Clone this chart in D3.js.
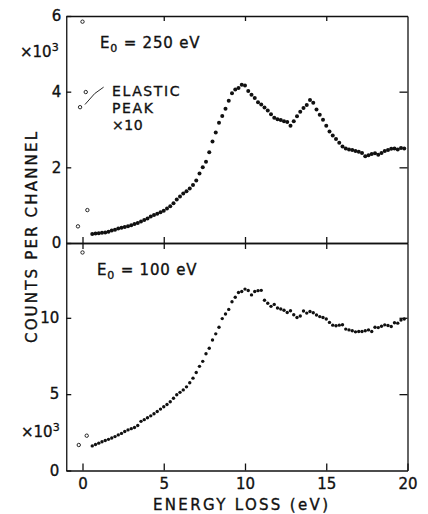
<!DOCTYPE html>
<html>
<head>
<meta charset="utf-8">
<script src="https://cdn.jsdelivr.net/npm/d3@7"></script>
<style>
  body { margin: 0; background: #fff; }
  svg { display: block; font-family: "DejaVu Sans", sans-serif; }
  text { stroke: #111; stroke-width: 0.35px; }
</style>
</head>
<body>
<svg id="chart" width="428" height="514"></svg>
<script>
// channel energies (eV)
const energy = [
  0.6, 0.8, 1.0, 1.2, 1.4, 1.6, 1.8, 2.0, 2.2, 2.4,
  2.6, 2.8, 3.0, 3.2, 3.4, 3.6, 3.8, 4.0, 4.2, 4.4,
  4.6, 4.8, 5.0, 5.2, 5.4, 5.6, 5.8, 6.0, 6.2, 6.4,
  6.6, 6.8, 7.0, 7.2, 7.4, 7.6, 7.8, 8.0, 8.2, 8.4,
  8.6, 8.8, 9.0, 9.2, 9.4, 9.6, 9.8, 10.0, 10.2, 10.4,
  10.6, 10.8, 11.0, 11.2, 11.4, 11.6, 11.8, 12.0, 12.2, 12.4,
  12.6, 12.8, 13.0, 13.2, 13.4, 13.6, 13.8, 14.0, 14.2, 14.4,
  14.6, 14.8, 15.0, 15.2, 15.4, 15.6, 15.8, 16.0, 16.2, 16.4,
  16.6, 16.8, 17.0, 17.2, 17.4, 17.6, 17.8, 18.0, 18.2, 18.4,
  18.6, 18.8, 19.0, 19.2, 19.4, 19.6, 19.8
];

// counts per channel (x10^3), E0 = 250 eV
const counts250 = [
  0.24, 0.25, 0.26, 0.27, 0.28, 0.30, 0.33, 0.35, 0.38, 0.40,
  0.42, 0.44, 0.47, 0.50, 0.53, 0.57, 0.61, 0.65, 0.70, 0.74,
  0.77, 0.81, 0.85, 0.91, 0.97, 1.05, 1.15, 1.23, 1.31, 1.37,
  1.44, 1.53, 1.65, 1.84, 2.00, 2.15, 2.40, 2.68, 2.92, 3.18,
  3.36, 3.55, 3.76, 3.96, 4.06, 4.10, 4.18, 4.16, 4.02, 3.92,
  3.83, 3.72, 3.66, 3.58, 3.50, 3.40, 3.31, 3.27, 3.25, 3.22,
  3.20, 3.10, 3.22, 3.35, 3.47, 3.57, 3.65, 3.78, 3.71, 3.53,
  3.39, 3.26, 3.10, 2.95, 2.84, 2.75, 2.65, 2.55, 2.50, 2.47,
  2.46, 2.43, 2.41, 2.38, 2.29, 2.32, 2.35, 2.37, 2.33, 2.38,
  2.43, 2.46, 2.49, 2.50, 2.47, 2.51, 2.50
];

// counts per channel (x10^3), E0 = 100 eV
const counts100 = [
  1.61, 1.70, 1.79, 1.88, 1.96, 2.04, 2.13, 2.22, 2.33, 2.43,
  2.55, 2.66, 2.74, 2.82, 2.95, 3.22, 3.33, 3.45, 3.58, 3.72,
  3.86, 4.02, 4.18, 4.32, 4.50, 4.73, 4.96, 5.12, 5.28, 5.48,
  5.75, 6.05, 6.42, 6.82, 7.15, 7.65, 8.01, 8.55, 8.95, 9.38,
  9.95, 10.25, 10.55, 11.05, 11.35, 11.66, 11.72, 11.88, 11.79, 11.50,
  11.72, 11.78, 11.80, 11.15, 10.95, 10.75, 10.88, 10.64, 10.58, 10.50,
  10.35, 10.46, 10.20, 10.02, 10.12, 10.45, 10.31, 10.41, 10.33, 10.18,
  10.08, 10.02, 9.92, 9.70, 9.52, 9.48, 9.52, 9.55, 9.26, 9.21,
  9.15, 9.08, 9.10, 9.10, 9.15, 9.21, 9.10, 9.38, 9.36, 9.45,
  9.54, 9.50, 9.43, 9.68, 9.65, 9.85, 9.92
];

// elastic peak (open circles, x10)
const elasticE250 = [-0.28, -0.15, 0.0, 0.2, 0.3];
const elastic250 = [0.44, 3.59, 5.85, 3.99, 0.87];
const elasticE100 = [-0.23, 0.0, 0.26];
const elastic100 = [1.67, 14.28, 2.28];

const xTicks = [0, 5, 10, 15, 20];
const yTicks250 = [0, 2, 4, 6];
const yTicks100 = [0, 5, 10];

const svg = d3.select('#chart');
const fs = 15;

const x = d3.scaleLinear().domain([-1, 20]).range([66.25, 407.5]);
const yTop = d3.scaleLinear().domain([0, 6]).range([243, 16]);
const yBot = d3.scaleLinear().domain([0, 14.9]).range([470.5, 243]);

function styleAxis(g) {
  g.selectAll('path, line').attr('stroke', '#111').attr('stroke-width', 1.3);
  g.selectAll('text').attr('fill', '#111').attr('font-size', fs)
    .attr('font-family', '"DejaVu Sans", sans-serif');
}

// left axes
svg.append('g').attr('transform', 'translate(' + x(-1) + ',0)')
  .call(d3.axisLeft(yTop).tickValues(yTicks250).tickSize(-5).tickSizeOuter(0).tickPadding(5).tickFormat(d3.format('d')))
  .call(styleAxis);
svg.append('g').attr('transform', 'translate(' + x(-1) + ',0)')
  .call(d3.axisLeft(yBot).tickValues(yTicks100).tickSize(-5).tickSizeOuter(0).tickPadding(7).tickFormat(d3.format('d')))
  .call(styleAxis);

// right axes
svg.append('g').attr('transform', 'translate(' + x(20) + ',0)')
  .call(d3.axisRight(yTop).tickValues([2, 4]).tickSize(-8).tickSizeOuter(0).tickFormat(''))
  .call(styleAxis);
svg.append('g').attr('transform', 'translate(' + x(20) + ',0)')
  .call(d3.axisRight(yBot).tickValues([5, 10]).tickSize(-8).tickSizeOuter(0).tickFormat(''))
  .call(styleAxis);

// top edge
svg.append('g').attr('transform', 'translate(0,' + yTop(6) + ')')
  .call(d3.axisTop(x).tickValues([5, 10, 15]).tickSize(-5).tickSizeOuter(0).tickFormat(''))
  .call(styleAxis);

// shared middle line, ticks crossing
svg.append('g').attr('transform', 'translate(0,' + yTop(0) + ')')
  .call(d3.axisBottom(x).tickValues([0, 5, 10, 15]).tickSize(6).tickSizeOuter(0).tickFormat(''))
  .call(styleAxis);
svg.append('g').attr('transform', 'translate(0,' + yTop(0) + ')')
  .call(d3.axisTop(x).tickValues([0, 5, 10, 15]).tickSize(6).tickSizeOuter(0).tickFormat(''))
  .call(styleAxis);

// bottom axis
svg.append('g').attr('transform', 'translate(0,' + yBot(0) + ')')
  .call(d3.axisBottom(x).tickValues(xTicks).tickSize(-7).tickSizeOuter(0).tickPadding(8).tickFormat(d3.format('d')))
  .call(styleAxis);

// data points
svg.append('g').selectAll('circle')
  .data(energy.map((e, i) => [e, counts250[i]]))
  .enter().append('circle')
  .attr('cx', d => x(d[0]))
  .attr('cy', d => yTop(d[1]))
  .attr('r', 2.0)
  .attr('fill', '#111');

svg.append('g').selectAll('circle')
  .data(energy.map((e, i) => [e, counts100[i]]))
  .enter().append('circle')
  .attr('cx', d => x(d[0]))
  .attr('cy', d => yBot(d[1]))
  .attr('r', 1.7)
  .attr('fill', '#111');

// elastic peak open circles
svg.append('g').selectAll('circle')
  .data(elasticE250.map((e, i) => [e, elastic250[i]]))
  .enter().append('circle')
  .attr('cx', d => x(d[0]))
  .attr('cy', d => yTop(d[1]))
  .attr('r', 1.7)
  .attr('fill', '#fff').attr('stroke', '#111').attr('stroke-width', 0.9);

svg.append('g').selectAll('circle')
  .data(elasticE100.map((e, i) => [e, elastic100[i]]))
  .enter().append('circle')
  .attr('cx', d => x(d[0]))
  .attr('cy', d => yBot(d[1]))
  .attr('r', 1.7)
  .attr('fill', '#fff').attr('stroke', '#111').attr('stroke-width', 0.9);

// annotations
function label(px, py, parts, spacing, size) {
  const base = size || fs;
  const t = svg.append('text').attr('x', px).attr('y', py)
    .attr('font-size', base).attr('fill', '#111')
    .attr('letter-spacing', spacing || 0);
  parts.forEach(p => {
    t.append('tspan').text(p.t)
      .attr('font-size', p.s || base)
      .attr('dy', p.dy || 0);
  });
  return t;
}

label(100, 48, [{t: 'E'}, {t: '0', s: 11, dy: 4}, {t: ' = 250  eV', dy: -4}], 0.8);
label(97, 275, [{t: 'E'}, {t: '0', s: 11, dy: 4}, {t: ' = 100  eV', dy: -4}], 0.8);

label(20, 57, [{t: '×10'}, {t: '3', s: 11, dy: -6}]);
label(21, 437, [{t: '×10'}, {t: '3', s: 11, dy: -6}]);

label(112, 96, [{t: 'ELASTIC'}], 1.6, 14);
label(112, 113, [{t: 'PEAK'}], 1.6, 14);
label(112, 130, [{t: '×10'}], 0.6, 14);

svg.append('path')
  .attr('d', d3.line()([[x(0.15), yTop(3.66)], [x(0.75), yTop(3.95)], [x(1.3), yTop(4.12)]]))
  .attr('fill', 'none').attr('stroke', '#111').attr('stroke-width', 0.9);

// axis titles
svg.append('text')
  .attr('x', 153).attr('y', 510)
  .attr('font-size', fs).attr('fill', '#111')
  .attr('textLength', 175).attr('lengthAdjust', 'spacing')
  .text('ENERGY LOSS (eV)');

svg.append('text')
  .attr('transform', 'translate(37,343) rotate(-90)')
  .attr('font-size', fs).attr('fill', '#111')
  .attr('textLength', 211).attr('lengthAdjust', 'spacing')
  .text('COUNTS PER CHANNEL');
</script>
</body>
</html>
